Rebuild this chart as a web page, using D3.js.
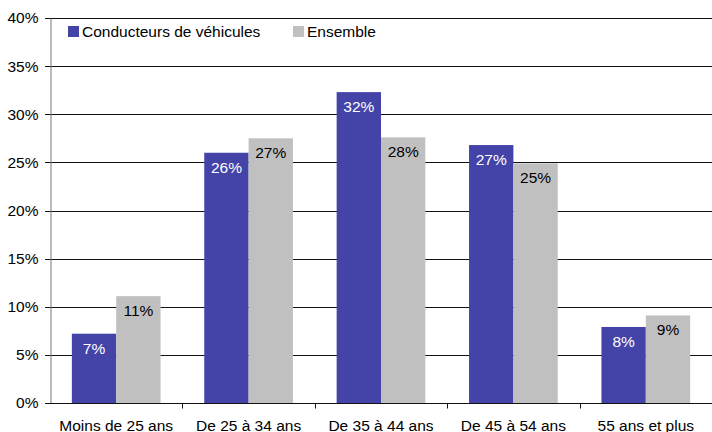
<!DOCTYPE html>
<html>
<head>
<meta charset="utf-8">
<script src="https://cdn.jsdelivr.net/npm/d3@7"></script>
<style>
  body { margin: 0; background: #fff; }
  text { font-family: "Liberation Sans", Arial, sans-serif; }
</style>
</head>
<body>
<div id="chart"></div>
<script>
const categories = ['Moins de 25 ans', 'De 25 à 34 ans', 'De 35 à 44 ans', 'De 45 à 54 ans', '55 ans et plus'];
const seriesNames = ['Conducteurs de véhicules', 'Ensemble'];
const conducteurs = [7.2, 26.0, 32.3, 26.8, 7.9];
const ensemble = [11.1, 27.5, 27.6, 24.9, 9.1];
const labelsConducteurs = ['7%', '26%', '32%', '27%', '8%'];
const labelsEnsemble = ['11%', '27%', '28%', '25%', '9%'];
const yTicks = [0, 5, 10, 15, 20, 25, 30, 35, 40];

const W = 712, H = 432;
const margin = { left: 50, right: 0, top: 18, bottom: 29 };
const colors = ['#4343a8', '#c0c0c0'];
const textColors = ['#fff', '#000'];
const fontSize = '15.5px';

const svg = d3.select('#chart').append('svg')
    .attr('width', W)
    .attr('height', H);

const x = d3.scaleBand()
    .domain(categories)
    .range([margin.left, W - margin.right])
    .paddingInner(0.33)
    .paddingOuter(0.165);

const xSub = d3.scaleBand()
    .domain(seriesNames)
    .range([0, x.bandwidth()]);

const y = d3.scaleLinear()
    .domain([0, 40])
    .range([H - margin.bottom, margin.top]);

// gridlines (with the small tick stub to the left of the axis)
svg.append('g')
    .selectAll('line')
    .data(yTicks)
    .enter()
    .append('line')
    .attr('x1', margin.left - 5)
    .attr('x2', W - margin.right)
    .attr('y1', d => Math.round(y(d)) + 0.5)
    .attr('y2', d => Math.round(y(d)) + 0.5)
    .attr('stroke', '#111')
    .attr('stroke-width', 1);

// bars
const rows = categories.map((c, i) => ({
    cat: c,
    vals: [
        { s: 0, v: conducteurs[i], label: labelsConducteurs[i] },
        { s: 1, v: ensemble[i], label: labelsEnsemble[i] }
    ]
}));

const groups = svg.append('g')
    .selectAll('g')
    .data(rows)
    .enter()
    .append('g')
    .attr('transform', d => `translate(${x(d.cat)},0)`);

groups.selectAll('rect')
    .data(d => d.vals)
    .enter()
    .append('rect')
    .attr('x', d => xSub(seriesNames[d.s]))
    .attr('y', d => y(d.v))
    .attr('width', xSub.bandwidth())
    .attr('height', d => y(0) - y(d.v))
    .attr('fill', d => colors[d.s]);

groups.selectAll('text')
    .data(d => d.vals)
    .enter()
    .append('text')
    .attr('x', d => xSub(seriesNames[d.s]) + xSub.bandwidth() / 2)
    .attr('y', d => y(d.v) + 20)
    .attr('text-anchor', 'middle')
    .attr('fill', d => textColors[d.s])
    .style('font-size', fontSize)
    .text(d => d.label);

// y axis
const yAxis = svg.append('g')
    .attr('transform', `translate(${margin.left + 0.5},0)`)
    .call(d3.axisLeft(y).tickValues(yTicks).tickFormat(d => d + '%').tickSize(0).tickSizeOuter(0));
yAxis.select('.domain').attr('stroke', '#777');
yAxis.selectAll('.tick text')
    .attr('x', -12)
    .style('font-size', fontSize)
    .style('font-family', '"Liberation Sans", Arial, sans-serif')
    .attr('fill', '#000');

// x axis
const xAxis = svg.append('g')
    .attr('transform', `translate(0,${Math.round(y(0)) + 0.5})`);
xAxis.append('line')
    .attr('x1', margin.left)
    .attr('x2', W - margin.right)
    .attr('stroke', '#111');
xAxis.selectAll('.tk')
    .data(categories)
    .enter()
    .append('line')
    .attr('x1', d => Math.round(x(d) - x.step() * x.paddingInner() / 2 + x.step()) + 0.5)
    .attr('x2', d => Math.round(x(d) - x.step() * x.paddingInner() / 2 + x.step()) + 0.5)
    .attr('y1', 0)
    .attr('y2', 5)
    .attr('stroke', '#111');
xAxis.selectAll('.lbl')
    .data(categories)
    .enter()
    .append('text')
    .attr('x', d => x(d) + x.bandwidth() / 2)
    .attr('y', 27)
    .attr('text-anchor', 'middle')
    .style('font-size', fontSize)
    .text(d => d);

// legend
const legendX = [68, 293];
const legend = svg.append('g');
seriesNames.forEach((s, i) => {
    legend.append('rect')
        .attr('x', legendX[i])
        .attr('y', 26)
        .attr('width', 11)
        .attr('height', 11)
        .attr('fill', colors[i]);
    legend.append('text')
        .attr('x', legendX[i] + 14)
        .attr('y', 37)
        .style('font-size', fontSize)
        .text(s);
});
</script>
</body>
</html>
